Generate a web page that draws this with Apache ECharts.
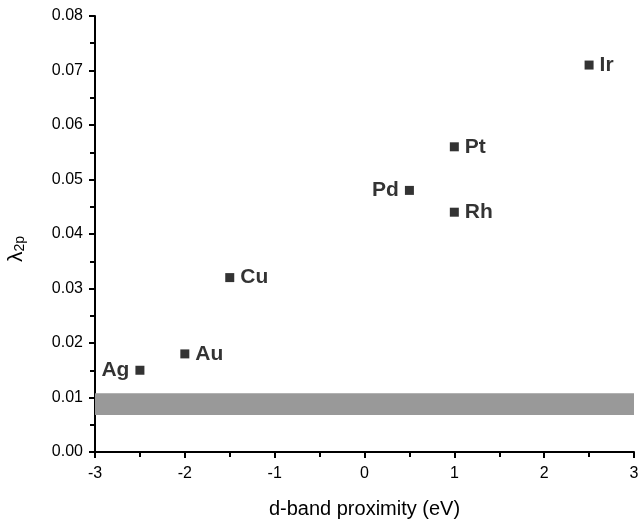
<!DOCTYPE html>
<html>
<head>
<meta charset="utf-8">
<script src="https://cdn.jsdelivr.net/npm/echarts@6/dist/echarts.min.js"></script>
<style>
  html, body { margin: 0; padding: 0; background: #fff; }
  #chart { width: 639px; height: 522px; }
</style>
</head>
<body>
<div id="chart"></div>
<script>
// metals, d-band proximity (eV) and lambda_2p
var metals = ['Ag', 'Au', 'Cu', 'Pd', 'Pt', 'Rh', 'Ir'];
var proximity = [-2.5, -2, -1.5, 0.5, 1, 1, 2.5];
var lambda2p = [0.015, 0.018, 0.032, 0.048, 0.056, 0.044, 0.071];
var labelLeft = ['Ag', 'Pd'];
var band = [0.0068, 0.0108];

var points = [];
for (var i = 0; i < metals.length; i++) {
  var left = labelLeft.indexOf(metals[i]) >= 0;
  points.push({
    value: [proximity[i], lambda2p[i]],
    name: metals[i],
    label: { position: left ? 'left' : 'right' }
  });
}

var font = 'Liberation Sans, Arial, sans-serif';
var axisLine = { show: true, onZero: false, lineStyle: { color: '#000', width: 2 } };
var tick = { show: true, length: 6, lineStyle: { color: '#000', width: 2 } };
var minor = { show: true, splitNumber: 2, length: 5, lineStyle: { color: '#000', width: 2 } };

var chart = echarts.init(document.getElementById('chart'));
chart.setOption({
  animation: false,
  grid: { left: 95, right: 5, top: 16, bottom: 70, outerBoundsMode: 'none', containLabel: false },
  xAxis: {
    type: 'value', min: -3, max: 3, interval: 1,
    name: 'd-band proximity (eV)', nameLocation: 'middle', nameGap: 47,
    nameTextStyle: { fontFamily: font, fontSize: 20, color: '#000' },
    axisLine: axisLine,
    axisTick: tick,
    minorTick: minor,
    axisLabel: { fontFamily: font, fontSize: 16, color: '#000', margin: 14 },
    splitLine: { show: false }
  },
  yAxis: {
    type: 'value', min: 0, max: 0.08, interval: 0.01,
    name: '{l|λ}{s|2p}', nameLocation: 'middle', nameGap: 68,
    nameTextStyle: {
      padding: [0, 30, 0, 0],
      rich: {
        l: { fontFamily: font, fontSize: 21, color: '#000' },
        s: { fontFamily: font, fontSize: 14, color: '#000', verticalAlign: 'bottom', padding: [8, 0, 0, 0] }
      }
    },
    axisLine: axisLine,
    axisTick: tick,
    minorTick: minor,
    axisLabel: {
      fontFamily: font, fontSize: 16, color: '#000', margin: 12,
      formatter: function (v) { return v.toFixed(2); }
    },
    splitLine: { show: false }
  },
  series: [{
    type: 'scatter',
    symbol: 'rect',
    symbolSize: 9,
    itemStyle: { color: '#000' },
    label: {
      show: true, formatter: '{b}', distance: 6,
      fontFamily: font, fontSize: 21, fontWeight: 'bold', color: '#000'
    },
    data: points,
    markArea: {
      silent: true,
      itemStyle: { color: '#999999' },
      data: [[{ xAxis: -3, yAxis: band[0] }, { xAxis: 3, yAxis: band[1] }]]
    }
  }]
});
</script>
</body>
</html>
